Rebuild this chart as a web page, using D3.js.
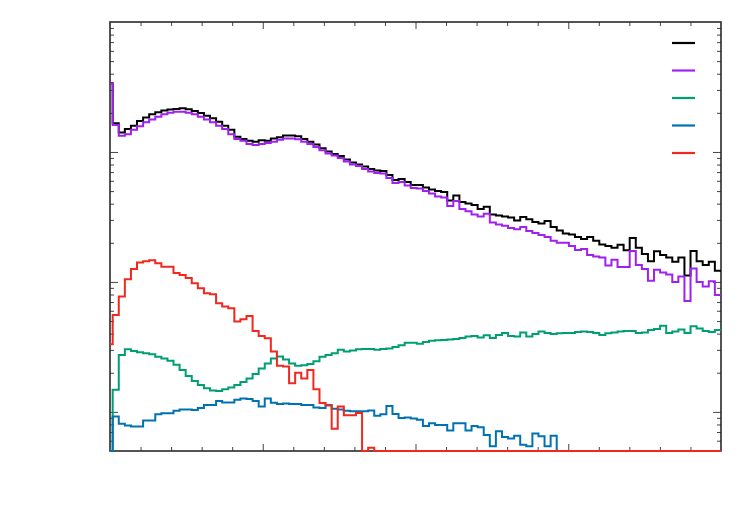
<!DOCTYPE html>
<html>
<head>
<meta charset="utf-8">
<script src="https://cdn.jsdelivr.net/npm/d3@7"></script>
<style>
  html, body { margin: 0; padding: 0; background: #fff; }
  svg { display: block; }
</style>
</head>
<body>
<script>
// ---- data ----
const xDomain = [0, 20];
const yDomain = [0.5, 1000];
const xMinorTicks = d3.range(1, 20, 1);
const xMajorTicks = [5, 10, 15];
const yMajorTicks = [1, 10, 100];
const yMinorTicks = [0.6, 0.7, 0.8, 0.9, 2, 3, 4, 5, 6, 7, 8, 9, 20, 30, 40, 50, 60, 70, 80, 90, 200, 300, 400, 500, 600, 700, 800, 900];
// bin edges (x units): first partial bin [0, firstEdge], then 100 bins of binWidth
const firstEdge = 0.088;
const binWidth = 0.1991;

const seriesNames = ["total", "main", "bkgA", "bkgB", "bkgC"];
const seriesColors = ["#000000", "#a020f0", "#009e73", "#0072b2", "#f0281e"];

const total = [338,166,141,150,159,173,184,195,202,208,212,
  214,217,213,207,199,190,182,171,159,148,
  131,126,122,120,123,122,127,130,134,134,
  132,126,120,114,107,101,96.5,93.2,87.6,83.0,
  80.1,77.3,74.0,72.0,71.4,66.5,60.9,62.0,58.8,55.8,
  55.7,53.3,51.5,50.1,49.2,42.4,46.3,41.2,40.2,39.1,
  36.4,37.8,33.0,32.5,31.9,31.3,29.7,31.6,30.3,28.9,
  28.2,29.4,26.5,24.9,23.6,23.2,22.2,21.4,22.2,20.7,
  19.4,18.9,18.3,19.3,17.5,21.8,18.3,16.4,14.4,17.2,
  16.1,15.4,14.3,15.4,11.2,17.3,14.4,13.5,14.3,12.2];

const main = [336,161,133,137,148,158,169,178,187,195,200,
  204,204,200,195,187,178,169,159,150,137,
  126,122,115,113,115,117,120,124,127,127,
  125,120,115,109,103,97.4,94.0,89.9,84.5,80.1,
  78.0,74.0,70.8,68.9,68.3,63.1,57.8,58.8,55.2,52.8,
  52.4,50.1,48.0,45.5,44.7,38.4,42.0,36.4,34.9,33.0,
  31.9,33.4,28.7,27.7,27.0,26.0,25.4,26.5,24.7,23.8,
  23.0,22.2,20.7,20.0,20.0,18.9,17.6,17.9,16.1,15.7,
  15.4,13.4,14.8,13.0,13.0,17.3,13.5,12.6,10.2,12.4,
  11.8,11.4,10.0,11.0,7.14,12.7,10.0,9.23,10.1,7.94];

const bkgA = [0,1.48,2.74,3.03,2.94,2.87,2.82,2.77,2.65,2.58,2.47,
  2.30,2.10,1.89,1.73,1.61,1.52,1.46,1.45,1.49,1.54,
  1.61,1.70,1.81,1.96,2.16,2.36,2.58,2.67,2.53,2.36,
  2.26,2.28,2.34,2.45,2.65,2.74,2.82,3.00,2.92,2.97,
  3.03,3.05,3.05,3.00,3.05,3.08,3.16,3.25,3.40,3.40,
  3.34,3.45,3.52,3.55,3.58,3.61,3.64,3.71,3.81,3.84,
  3.74,3.88,3.71,3.91,4.05,3.84,3.81,4.09,3.81,3.98,
  4.16,4.05,3.98,4.02,4.05,4.05,4.12,4.16,4.12,4.05,
  3.91,4.02,4.09,4.16,4.20,4.20,4.05,4.09,4.27,4.35,
  4.59,4.05,4.16,4.31,4.05,4.55,4.39,4.20,4.12,4.27];

const bkgB = [0,0.920,0.809,0.787,0.773,0.773,0.860,0.860,0.957,0.974,0.974,
  1.018,1.045,1.045,1.036,1.073,1.132,1.132,1.215,1.183,1.183,
  1.237,1.270,1.259,1.215,1.102,1.270,1.173,1.152,1.162,1.152,
  1.152,1.132,1.132,1.083,1.073,1.132,1.055,1.045,1.018,1.009,
  1.009,1.009,1.027,0.932,0.957,1.112,0.965,0.899,0.907,0.891,
  0.868,0.780,0.816,0.794,0.794,0.720,0.816,0.816,0.720,0.780,
  0.760,0.665,0.543,0.708,0.642,0.625,0.654,0.558,0.543,0.683,
  0.648,0.543,0.654,0,0,0,0,0,0,0,
  0,0,0,0,0,0,0,0,0,0,
  0,0,0,0,0,0,0,0,0,0];

const bkgC = [3.32,5.57,7.71,10.5,12.6,14.1,14.4,14.7,13.9,13.1,13.1,
  11.7,11.3,10.7,9.77,8.94,8.19,8.04,6.86,6.46,6.28,
  4.95,5.15,5.47,4.20,3.84,3.69,2.91,2.26,2.23,1.66,
  2.00,1.81,2.10,1.49,1.17,1.12,0.74,1.10,0.94,0.94,
  0.98,0,0.53,0,0,0,0,0,0,0,
  0,0,0,0,0,0,0,0,0,0,
  0,0,0,0,0,0,0,0,0,0,
  0,0,0,0,0,0,0,0,0,0,
  0,0,0,0,0,0,0,0,0,0,
  0,0,0,0,0,0,0,0,0,0];

const allSeries = [total, main, bkgA, bkgB, bkgC];

// ---- layout ----
const W = 750, H = 525;
const M = { left: 110, right: 29, top: 22, bottom: 74 };

const svg = d3.select("body").append("svg").attr("width", W).attr("height", H);

const x = d3.scaleLinear().domain(xDomain).range([M.left, W - M.right]);
const y = d3.scaleLog().domain(yDomain).range([H - M.bottom, M.top]);

const frameColor = "#2a2a2a";
const tickColor = "#444";

function styleAxis(g) {
  g.select(".domain").remove();
  g.selectAll(".tick line").attr("stroke", tickColor).attr("stroke-width", 1);
  g.selectAll("text").remove();
}

// x ticks (bottom and top), inward
svg.append("g").attr("transform", `translate(0,${H - M.bottom})`)
  .call(d3.axisBottom(x).tickValues(xMinorTicks.filter(t => !xMajorTicks.includes(t))).tickSize(-4).tickFormat(""))
  .call(styleAxis);
svg.append("g").attr("transform", `translate(0,${H - M.bottom})`)
  .call(d3.axisBottom(x).tickValues(xMajorTicks).tickSize(-7).tickFormat(""))
  .call(styleAxis);
svg.append("g").attr("transform", `translate(0,${M.top})`)
  .call(d3.axisTop(x).tickValues(xMinorTicks.filter(t => !xMajorTicks.includes(t))).tickSize(-4).tickFormat(""))
  .call(styleAxis);
svg.append("g").attr("transform", `translate(0,${M.top})`)
  .call(d3.axisTop(x).tickValues(xMajorTicks).tickSize(-7).tickFormat(""))
  .call(styleAxis);

// y ticks (left and right), inward
svg.append("g").attr("transform", `translate(${M.left},0)`)
  .call(d3.axisLeft(y).tickValues(yMinorTicks).tickSize(-4).tickFormat(""))
  .call(styleAxis);
svg.append("g").attr("transform", `translate(${M.left},0)`)
  .call(d3.axisLeft(y).tickValues(yMajorTicks).tickSize(-8).tickFormat(""))
  .call(styleAxis);
svg.append("g").attr("transform", `translate(${W - M.right},0)`)
  .call(d3.axisRight(y).tickValues(yMinorTicks).tickSize(-4).tickFormat(""))
  .call(styleAxis);
svg.append("g").attr("transform", `translate(${W - M.right},0)`)
  .call(d3.axisRight(y).tickValues(yMajorTicks).tickSize(-8).tickFormat(""))
  .call(styleAxis);

// frame
svg.append("rect")
  .attr("x", M.left).attr("y", M.top)
  .attr("width", W - M.left - M.right).attr("height", H - M.top - M.bottom)
  .attr("fill", "none").attr("stroke", frameColor).attr("stroke-width", 1.6);

// histogram step lines
function edgesFor(n) {
  const e = [xDomain[0], firstEdge];
  for (let i = 1; i < n; i++) e.push(firstEdge + i * binWidth);
  return e;
}
const yMin = yDomain[0];
const line = d3.line()
  .x(d => x(d[0]))
  .y(d => y(Math.max(d[1], yMin)))
  .curve(d3.curveStepAfter);

allSeries.forEach((vals, si) => {
  const edges = edgesFor(vals.length);
  const pts = vals.map((v, i) => [edges[i], v]);
  pts.push([Math.min(edges[vals.length], xDomain[1]), vals[vals.length - 1]]);
  svg.append("path")
    .datum(pts)
    .attr("fill", "none")
    .attr("stroke", seriesColors[si])
    .attr("stroke-width", 2)
    .attr("stroke-linejoin", "miter")
    .attr("d", line);
});

// legend (lines only)
const legend = svg.append("g");
seriesNames.forEach((name, i) => {
  legend.append("line")
    .attr("x1", 672).attr("x2", 695)
    .attr("y1", 43 + i * 27.5).attr("y2", 43 + i * 27.5)
    .attr("stroke", seriesColors[i])
    .attr("stroke-width", 2.2);
});
</script>
</body>
</html>
